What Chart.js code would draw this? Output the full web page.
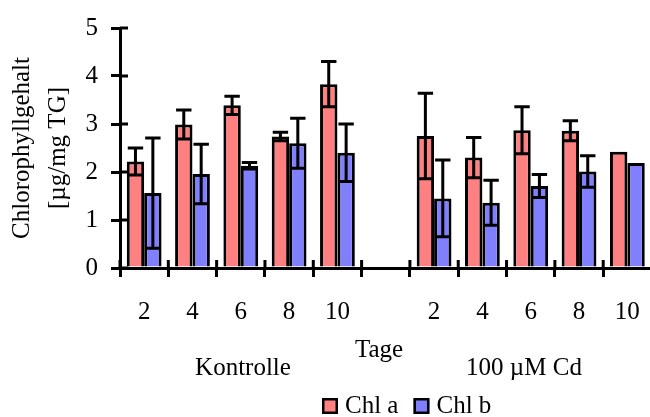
<!DOCTYPE html>
<html>
<head>
<meta charset="utf-8">
<script src="https://cdn.jsdelivr.net/npm/chart.js@4"></script>
<style>
  html, body { margin: 0; padding: 0; background: #fff; overflow: hidden; }
  #wrap { width: 660px; height: 417px; }
</style>
</head>
<body>
<div id="wrap"><canvas id="grafico" width="660" height="417"></canvas></div>
<script>
// Tage je Versuchsgruppe (Lücke zwischen Kontrolle und Cd)
const tage = ['2', '4', '6', '8', '10', '', '2', '4', '6', '8', '10'];
const chlA = [2.22, 2.99, 3.39, 2.74, 3.83, 0, 2.75, 2.30, 2.87, 2.86, 2.42];
const chlAFehler = [0.28, 0.30, 0.19, 0.09, 0.47, 0, 0.89, 0.42, 0.49, 0.21, 0];
const chlB = [1.56, 1.96, 2.13, 2.60, 2.40, 0, 1.45, 1.36, 1.71, 2.01, 2.19];
const chlBFehler = [1.15, 0.62, 0.07, 0.52, 0.60, 0, 0.80, 0.47, 0.24, 0.33, 0];
const gruppen = ['Kontrolle', '100 µM Cd'];
const yTicks = [0, 1, 2, 3, 4, 5];

const schrift = "'Liberation Serif', 'Times New Roman', serif";
const fehler = [chlAFehler, chlBFehler];
const strich = 3;

// Fehlerbalken über die Balken zeichnen
const fehlerbalken = {
  id: 'fehlerbalken',
  afterDatasetsDraw(chart) {
    const ctx = chart.ctx;
    const y = chart.scales.y;
    ctx.save();
    ctx.strokeStyle = '#000';
    ctx.lineWidth = strich;
    chart.data.datasets.forEach((ds, di) => {
      chart.getDatasetMeta(di).data.forEach((bar, i) => {
        const e = fehler[di][i];
        if (!e) return;
        const v = ds.data[i];
        const oben = y.getPixelForValue(v + e);
        const unten = y.getPixelForValue(v - e);
        const h = bar.width / 2 - 1;
        ctx.beginPath();
        ctx.moveTo(bar.x, oben); ctx.lineTo(bar.x, unten);
        ctx.moveTo(bar.x - h, oben); ctx.lineTo(bar.x + h, oben);
        ctx.moveTo(bar.x - h, unten); ctx.lineTo(bar.x + h, unten);
        ctx.stroke();
      });
    });
    ctx.restore();
  }
};

// Achsenstriche nach innen verlängern, Gruppenbeschriftung und Legende
const extras = {
  id: 'extras',
  afterDraw(chart) {
    const ctx = chart.ctx;
    const { x, y } = chart.scales;
    const a = chart.chartArea;
    ctx.save();
    ctx.strokeStyle = '#000';
    ctx.lineWidth = strich;
    ctx.beginPath();
    yTicks.forEach(t => {
      const py = y.getPixelForValue(t);
      ctx.moveTo(a.left, py); ctx.lineTo(a.left + 8, py);
    });
    for (let i = 0; i <= tage.length; i++) {
      const px = x.getPixelForValue(i) - x.width / tage.length / 2;
      ctx.moveTo(px, a.bottom); ctx.lineTo(px, a.bottom - 8);
    }
    ctx.stroke();

    ctx.fillStyle = '#000';
    ctx.font = '25px ' + schrift;
    ctx.textAlign = 'center';
    ctx.textBaseline = 'alphabetic';
    ctx.fillText('Tage', 379, 357);
    ctx.fillText(gruppen[0], 243, 375);
    ctx.fillText(gruppen[1], 524, 375);

    // Legende
    ctx.textAlign = 'left';
    ctx.lineWidth = 2.5;
    let lx = 322;
    chart.data.datasets.forEach(ds => {
      ctx.fillStyle = ds.backgroundColor;
      ctx.fillRect(lx, 398, 16, 16);
      ctx.strokeRect(lx + 1.25, 399.25, 13.5, 13.5);
      ctx.fillStyle = '#000';
      ctx.fillText(ds.label, lx + 23, 413);
      lx += 23 + ctx.measureText(ds.label).width + 15;
    });
    ctx.restore();
  }
};

new Chart(document.getElementById('grafico'), {
  type: 'bar',
  data: {
    labels: tage,
    datasets: [
      { label: 'Chl a', data: chlA, backgroundColor: '#ff8080', borderColor: '#000', borderWidth: strich },
      { label: 'Chl b', data: chlB, backgroundColor: '#8080ff', borderColor: '#000', borderWidth: strich }
    ]
  },
  options: {
    responsive: false,
    animation: false,
    devicePixelRatio: 1,
    barPercentage: 1.0,
    categoryPercentage: 0.72,
    layout: { padding: { top: 25, right: 3, left: 0, bottom: 0 } },
    plugins: {
      legend: { display: false },
      tooltip: { enabled: false }
    },
    scales: {
      x: {
        offset: true,
        grid: { display: true, drawOnChartArea: false, offset: true, color: '#000', lineWidth: strich, tickLength: 9 },
        border: { display: true, color: '#000', width: strich },
        ticks: { font: { family: schrift, size: 25 }, color: '#000', padding: 20, maxRotation: 0, autoSkip: false },
        afterFit(s) { s.height = 149; }
      },
      y: {
        min: 0,
        max: 5,
        ticks: { stepSize: 1, font: { family: schrift, size: 25 }, color: '#000', padding: 13 },
        grid: { drawOnChartArea: false, color: '#000', lineWidth: strich, tickLength: 9 },
        border: { color: '#000', width: strich },
        title: {
          display: true,
          text: ['Chlorophyllgehalt', '[µg/mg TG]'],
          font: { family: schrift, size: 25, lineHeight: 1.44 },
          color: '#000',
          padding: { top: 4, bottom: 0 }
        },
        afterFit(s) { s.width = 120; }
      }
    }
  },
  plugins: [fehlerbalken, extras]
});
</script>
</body>
</html>
